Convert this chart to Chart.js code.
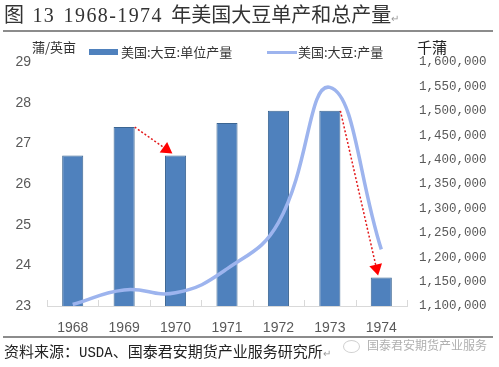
<!DOCTYPE html>
<html>
<head>
<meta charset="utf-8">
<script src="https://cdn.jsdelivr.net/npm/chart.js@4.4.0/dist/chart.umd.min.js"></script>
<style>
  html, body { margin: 0; padding: 0; background: #fff; }
  #wrap { position: relative; width: 499px; height: 367px; overflow: hidden; font-family: "Noto Sans CJK SC", sans-serif; }
  #c { position: absolute; left: 0; top: 0; }
  .abs { position: absolute; white-space: nowrap; }
</style>
</head>
<body>
<div id="wrap">
  <canvas id="c" width="499" height="367"></canvas>
  <div class="abs" style="left:4px;top:0px;font-size:20px;color:#333;line-height:28px;">图<span style="font-family:'Liberation Serif','Noto Sans CJK SC';letter-spacing:1.4px;word-spacing:2px;"> 13 1968-1974 </span>年美国大豆单产和总产量<span style="font-size:10px;color:#999;">↵</span></div>
  <div class="abs" style="left:3px;top:30px;width:490px;height:2px;background:#8c8c8c;"></div>
  <div class="abs" style="left:32px;top:38px;font-size:13px;color:#333;line-height:18px;">蒲/英亩</div>
  <div class="abs" style="left:89px;top:49px;width:29px;height:6px;background:#4F81BD;"></div>
  <div class="abs" style="left:121px;top:43px;font-size:13px;color:#333;line-height:18px;">美国:大豆:单位产量</div>
  <div class="abs" style="left:267px;top:50.5px;width:30px;height:3px;background:#9DB4EE;"></div>
  <div class="abs" style="left:298px;top:43px;font-size:13px;color:#333;line-height:18px;">美国:大豆:产量</div>
  <div class="abs" style="left:417px;top:37px;font-size:15px;color:#222;line-height:20px;">千蒲</div>
  <div class="abs" style="left:3px;top:336px;width:490px;height:2px;background:#8c8c8c;"></div>
  <div class="abs" style="left:4px;top:340px;font-size:15px;color:#222;line-height:22px;">资料来源：<span style="font-family:'Liberation Mono','Noto Sans CJK SC';font-size:14px;">USDA</span>、国泰君安期货产业服务研究所<span style="font-size:10px;color:#999;">↵</span></div>
  <div class="abs" style="left:343px;top:340px;width:15px;height:11px;border:1.5px solid #d0d0d0;border-radius:50%;"></div>
  <div class="abs" style="left:367px;top:336px;font-size:12px;color:#b0b0b0;line-height:18px;">国泰君安期货产业服务</div>
</div>
<script>
const years = ['1968', '1969', '1970', '1971', '1972', '1973', '1974'];
const yieldPerAcre = [26.7, 27.4, 26.7, 27.5, 27.8, 27.8, 23.7];
const production = [1103000, 1133000, 1127000, 1176000, 1271000, 1548000, 1216000];
const yieldTicks = [23, 24, 25, 26, 27, 28, 29];
const productionTicks = [1100000, 1150000, 1200000, 1250000, 1300000, 1350000, 1400000, 1450000, 1500000, 1550000, 1600000];
// annotation arrows: from category bar top (right edge) to category bar top
const arrows = [
  { fromCat: 1, toCat: 2 },
  { fromCat: 5, toCat: 6 }
];

const BAR_PCT = 0.41;

const extras = {
  id: 'extras',
  afterDatasetsDraw(chart) {
    const ctx = chart.ctx;
    const x = chart.scales.x, y = chart.scales.y;
    const area = chart.chartArea;
    const catW = (area.right - area.left) / years.length;
    ctx.save();
    ctx.strokeStyle = '#D9D9D9';
    ctx.lineWidth = 1;
    for (let k = 0; k <= years.length; k++) {
      const px = Math.round(area.left + k * catW) + 0.5;
      ctx.beginPath();
      ctx.moveTo(px, area.bottom);
      ctx.lineTo(px, area.bottom - 6);
      ctx.stroke();
    }
    ctx.restore();
    const half = catW * BAR_PCT / 2;
    arrows.forEach(a => {
      const x0 = x.getPixelForValue(a.fromCat) + half;
      const y0 = y.getPixelForValue(yieldPerAcre[a.fromCat]);
      const x1 = x.getPixelForValue(a.toCat) - half * 0.3;
      const y1 = y.getPixelForValue(yieldPerAcre[a.toCat]) - 2;
      const dx = x1 - x0, dy = y1 - y0, len = Math.hypot(dx, dy);
      const ux = dx / len, uy = dy / len;
      const hl = 11, hw = 6.5;
      const bx = x1 - ux * hl, by = y1 - uy * hl;
      ctx.save();
      ctx.strokeStyle = '#E31A1C';
      ctx.lineWidth = 1.5;
      ctx.setLineDash([2, 2]);
      ctx.beginPath();
      ctx.moveTo(x0, y0);
      ctx.lineTo(bx, by);
      ctx.stroke();
      ctx.setLineDash([]);
      ctx.fillStyle = '#FF0000';
      ctx.beginPath();
      ctx.moveTo(x1, y1);
      ctx.lineTo(bx - uy * hw, by + ux * hw);
      ctx.lineTo(bx + uy * hw, by - ux * hw);
      ctx.closePath();
      ctx.fill();
      ctx.restore();
    });
  }
};

new Chart(document.getElementById('c'), {
  data: {
    labels: years,
    datasets: [
      {
        type: 'line',
        label: '美国:大豆:产量',
        data: production,
        yAxisID: 'y1',
        borderColor: '#9DB4EE',
        borderWidth: 3.5,
        pointRadius: 0,
        tension: 0.45,
        fill: false,
        order: 0
      },
      {
        type: 'bar',
        label: '美国:大豆:单位产量',
        data: yieldPerAcre,
        yAxisID: 'y',
        backgroundColor: '#4F81BD',
        borderColor: '#3B6592',
        borderWidth: 1,
        categoryPercentage: 1,
        barPercentage: BAR_PCT,
        order: 1
      }
    ]
  },
  options: {
    responsive: false,
    animation: false,
    layout: { padding: { left: 0, right: 0, top: 62, bottom: 31 } },
    plugins: { legend: { display: false }, tooltip: { enabled: false } },
    scales: {
      x: {
        grid: { display: false },
        border: { display: true, color: '#D9D9D9', width: 1 },
        ticks: { color: '#595959', font: { family: "'Liberation Sans Narrow','Liberation Sans'", size: 14 }, padding: 6, maxRotation: 0 },
        afterFit(s) { s.height = 30; }
      },
      y: {
        position: 'left',
        min: 23, max: 29,
        afterBuildTicks(s) { s.ticks = yieldTicks.map(v => ({ value: v })); },
        grid: { display: false },
        border: { display: false },
        ticks: { color: '#595959', font: { family: "'Liberation Sans Narrow','Liberation Sans'", size: 14 }, padding: 8 },
        afterFit(s) { s.width = 47; }
      },
      y1: {
        position: 'right',
        min: 1100000, max: 1600000,
        afterBuildTicks(s) { s.ticks = productionTicks.map(v => ({ value: v })); },
        grid: { display: false },
        border: { display: false },
        ticks: {
          color: '#595959',
          font: { family: "'Liberation Mono'", size: 12.5 },
          padding: 4,
          callback: v => v.toLocaleString('en-US')
        },
        afterFit(s) { s.width = 92; }
      }
    }
  },
  plugins: [extras]
});
</script>
</body>
</html>
